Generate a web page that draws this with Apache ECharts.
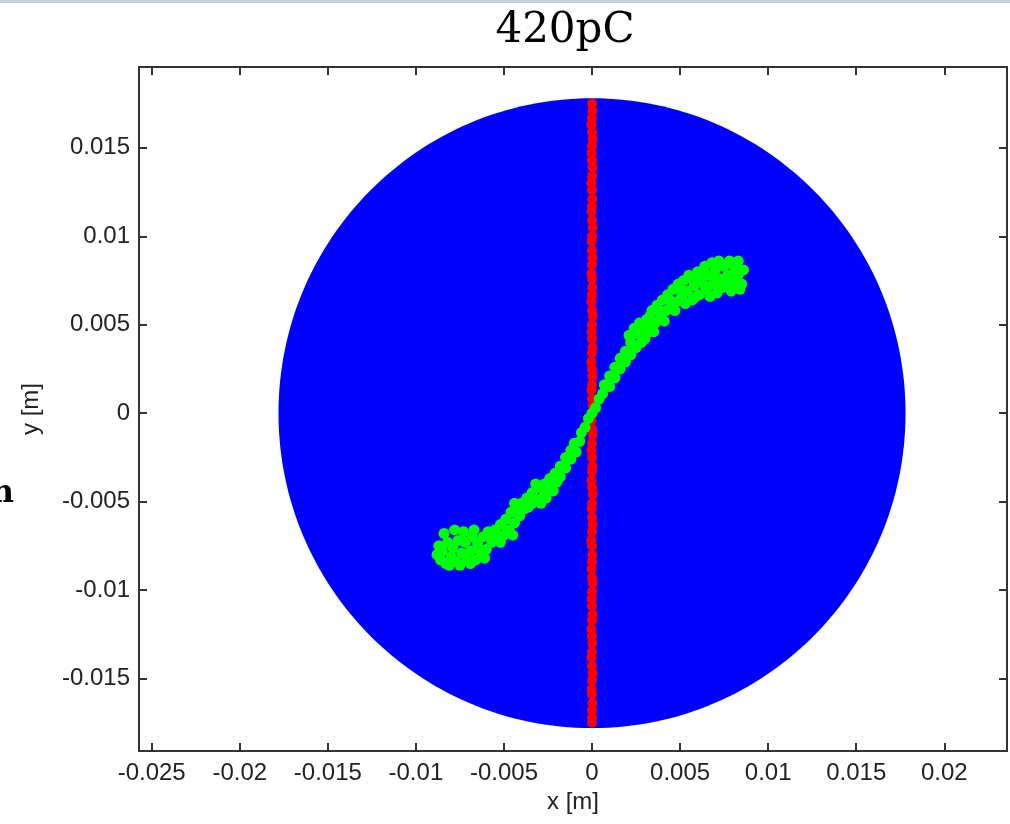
<!DOCTYPE html>
<html>
<head>
<meta charset="utf-8">
<script src="https://cdn.jsdelivr.net/npm/echarts@6/dist/echarts.min.js"></script>
<style>
  html, body { margin: 0; padding: 0; background: #ffffff; }
  #chart { width: 1010px; height: 824px; }
</style>
</head>
<body>
<div id="chart"></div>
<script>
// Beam cross-section at 420 pC: full beam disk, slice along x = 0, and the twisted slice.
const titleText = '420pC';

const xTicks = [-0.025, -0.02, -0.015, -0.01, -0.005, 0, 0.005, 0.01, 0.015, 0.02];
const yTicks = [-0.015, -0.01, -0.005, 0, 0.005, 0.01, 0.015];
const xRange = [-0.02572, 0.02356];
const yRange = [-0.0191, 0.01957];

// Full beam: centre x, centre y, radius [m]
const beamDisk = [[0, 0, 0.0178]];

// Particles sitting on the vertical line x = 0
const lineSlice = [
  [0, 0.0175], [0.00003, 0.0171], [0, 0.0167], [-0.00003, 0.0163], [0, 0.0159], [0.00004, 0.0155],
  [0, 0.0151], [-0.00002, 0.0147], [0, 0.0143], [0.00003, 0.0139], [0, 0.0134], [-0.00004, 0.0130],
  [0, 0.0126], [0.00002, 0.0121], [0, 0.0117], [-0.00003, 0.0114], [0, 0.0109], [0.00004, 0.0105],
  [0, 0.0100], [-0.00002, 0.0097], [0, 0.0092], [0.00003, 0.0088], [0, 0.0084], [-0.00004, 0.0079],
  [0, 0.0076], [0.00002, 0.0071], [0, 0.0067], [-0.00003, 0.0063], [0, 0.0058], [0.00004, 0.0055],
  [0, 0.0050], [-0.00002, 0.0046], [0, 0.0042], [0.00003, 0.0037], [0, 0.0034], [-0.00004, 0.0029],
  [0, 0.0025], [0.00002, 0.0021], [0, 0.0016], [-0.00003, 0.0013], [0, 0.0008], [0.00004, 0.0004],
  [0, 0.0000], [-0.00002, -0.0004], [0, -0.0009], [0.00003, -0.0012], [0, -0.0017], [-0.00004, -0.0021],
  [0, -0.0025], [0.00002, -0.0030], [0, -0.0033], [-0.00003, -0.0038], [0, -0.0042], [0.00004, -0.0046],
  [0, -0.0051], [-0.00002, -0.0054], [0, -0.0059], [0.00003, -0.0063], [0, -0.0067], [-0.00004, -0.0072],
  [0, -0.0075], [0.00002, -0.0080], [0, -0.0084], [-0.00003, -0.0088], [0, -0.0093], [0.00004, -0.0096],
  [0, -0.0101], [-0.00002, -0.0105], [0, -0.0109], [0.00003, -0.0114], [0, -0.0117], [-0.00004, -0.0122],
  [0, -0.0126], [0.00002, -0.0130], [0, -0.0135], [-0.00003, -0.0138], [0, -0.0143], [0.00004, -0.0147],
  [0, -0.0151], [-0.00002, -0.0156], [0, -0.0159], [0.00003, -0.0164], [0, -0.0168], [0, -0.0172], [0, -0.0175]
];

// The same slice after the twist (S-shape)
const twistedSlice = [
  [0, 0],
  [-0.0002, -0.0003], [-0.0004, -0.0008], [-0.0006, -0.0011], [-0.0007, -0.0016], [-0.0010, -0.0017],
  [-0.0009, -0.0022], [-0.0012, -0.0021], [-0.0012, -0.0026], [-0.0015, -0.0025], [-0.0015, -0.0031],
  [-0.0018, -0.0030], [-0.0018, -0.0036], [-0.0021, -0.0034], [-0.0020, -0.0039], [-0.0024, -0.0037],
  [-0.0024, -0.0042], [-0.0027, -0.0040], [-0.0027, -0.0046], [-0.0030, -0.0042], [-0.0031, -0.0049],
  [-0.0034, -0.0045], [-0.0034, -0.0051], [-0.0037, -0.0048], [-0.0038, -0.0054], [-0.0040, -0.0051],
  [-0.0041, -0.0058], [-0.0043, -0.0053], [-0.0044, -0.0062], [-0.0046, -0.0056], [-0.0047, -0.0066],
  [-0.0049, -0.0060], [-0.0050, -0.0069], [-0.0052, -0.0063], [-0.0053, -0.0071], [-0.0055, -0.0066],
  [-0.0057, -0.0073], [-0.0059, -0.0067], [-0.0060, -0.0077], [-0.0062, -0.0070], [-0.0063, -0.0081],
  [-0.0065, -0.0074], [-0.0066, -0.0083], [-0.0068, -0.0070], [-0.0069, -0.0078], [-0.0071, -0.0083],
  [-0.0072, -0.0073], [-0.0074, -0.0079], [-0.0076, -0.0072], [-0.0077, -0.0084], [-0.0079, -0.0076],
  [-0.0080, -0.0081], [-0.0082, -0.0073], [-0.0083, -0.0085], [-0.0085, -0.0078], [-0.0087, -0.0075],
  [-0.0088, -0.0080],
  [-0.0036, -0.0053], [-0.0042, -0.0057], [-0.0048, -0.0066], [-0.0054, -0.0069], [-0.0058, -0.0070],
  [-0.0064, -0.0077], [-0.0067, -0.0066], [-0.0073, -0.0067], [-0.0078, -0.0066], [-0.0084, -0.0068],
  [-0.0086, -0.0083], [-0.0081, -0.0086], [-0.0075, -0.0086], [-0.0069, -0.0085], [-0.0061, -0.0082],
  [-0.0029, -0.0051], [-0.0032, -0.0040], [-0.0026, -0.0048], [-0.0045, -0.0069], [-0.0044, -0.0051],
  [-0.0022, -0.0044], [-0.0052, -0.0073],
  [0.0002, 0.0003], [0.0004, 0.0008], [0.0006, 0.0011], [0.0007, 0.0016], [0.0010, 0.0015],
  [0.0010, 0.0021], [0.0013, 0.0020], [0.0013, 0.0026], [0.0016, 0.0025], [0.0016, 0.0031],
  [0.0019, 0.0029], [0.0019, 0.0035], [0.0022, 0.0033], [0.0022, 0.0040], [0.0025, 0.0037],
  [0.0025, 0.0045], [0.0028, 0.0040], [0.0028, 0.0049], [0.0031, 0.0045], [0.0031, 0.0053],
  [0.0033, 0.0048], [0.0034, 0.0058], [0.0036, 0.0051], [0.0037, 0.0061], [0.0039, 0.0055],
  [0.0040, 0.0064], [0.0042, 0.0058], [0.0043, 0.0067], [0.0045, 0.0061], [0.0046, 0.0070],
  [0.0048, 0.0063], [0.0049, 0.0073], [0.0051, 0.0066], [0.0052, 0.0075], [0.0054, 0.0069],
  [0.0055, 0.0078], [0.0057, 0.0064], [0.0058, 0.0072], [0.0060, 0.0080], [0.0061, 0.0067],
  [0.0062, 0.0075], [0.0064, 0.0083], [0.0065, 0.0070], [0.0066, 0.0078], [0.0068, 0.0085],
  [0.0069, 0.0073], [0.0070, 0.0081], [0.0072, 0.0086], [0.0073, 0.0076], [0.0074, 0.0071],
  [0.0075, 0.0083], [0.0077, 0.0078], [0.0078, 0.0086], [0.0080, 0.0074], [0.0081, 0.0082],
  [0.0083, 0.0086], [0.0083, 0.0078], [0.0085, 0.0073],
  [0.0035, 0.0046], [0.0041, 0.0052], [0.0047, 0.0058], [0.0053, 0.0062], [0.0059, 0.0066],
  [0.0063, 0.0078], [0.0067, 0.0066], [0.0071, 0.0068], [0.0076, 0.0073], [0.0079, 0.0069],
  [0.0084, 0.0070], [0.0086, 0.0081], [0.0070, 0.0076], [0.0064, 0.0072], [0.0057, 0.0076],
  [0.0050, 0.0070], [0.0044, 0.0064], [0.0038, 0.0058],
  [0.0027, 0.0051], [0.0030, 0.0042], [0.0024, 0.0048], [0.0021, 0.0044], [0.0033, 0.0055]
];

const frameColor = '#333333';
const labelFont = { fontFamily: 'Liberation Sans, Arial, sans-serif', fontSize: 24, color: '#222222' };

function fmt(v) { return String(+v.toFixed(4)); }

function makeX(position, showLabels) {
  return {
    type: 'value', position: position, min: xRange[0], max: xRange[1],
    splitLine: { show: false },
    axisLine: { show: true, onZero: false, lineStyle: { color: frameColor, width: 2 } },
    axisTick: { show: true, inside: true, length: 8, customValues: xTicks, lineStyle: { color: frameColor, width: 2 } },
    axisLabel: Object.assign({ show: showLabels, customValues: xTicks, margin: 10, formatter: fmt }, labelFont),
    name: showLabels ? 'x [m]' : '', nameLocation: 'middle', nameGap: 38,
    nameTextStyle: labelFont
  };
}
function makeY(position, showLabels) {
  return {
    type: 'value', position: position, min: yRange[0], max: yRange[1],
    splitLine: { show: false },
    axisLine: { show: true, onZero: false, lineStyle: { color: frameColor, width: 2 } },
    axisTick: { show: true, inside: true, length: 8, customValues: yTicks, lineStyle: { color: frameColor, width: 2 } },
    axisLabel: Object.assign({ show: showLabels, customValues: yTicks, margin: 9, formatter: fmt }, labelFont),
    name: showLabels ? 'y [m]' : '', nameLocation: 'middle', nameGap: 96,
    nameTextStyle: labelFont
  };
}

const chart = echarts.init(document.getElementById('chart'), null, { renderer: 'canvas' });
chart.setOption({
  animation: false,
  backgroundColor: '#ffffff',
  grid: { left: 139, right: 3, top: 67, bottom: 73, containLabel: false },
  xAxis: [makeX('bottom', true), makeX('top', false)],
  yAxis: [makeY('left', true), makeY('right', false)],
  graphic: [
    { type: 'rect', left: 0, top: 0, shape: { width: 1010, height: 3 }, style: { fill: '#c6d0d9' } },
    { type: 'text', x: 565, y: 31, style: { text: titleText, font: '42px "DejaVu Serif", serif', fill: '#000', textAlign: 'center', textVerticalAlign: 'middle' } },
    { type: 'text', x: 14, y: 510, style: { text: 'n', font: 'bold 32px "DejaVu Serif", serif', fill: '#000', textAlign: 'right', textVerticalAlign: 'bottom' } }
  ],
  series: [
    {
      type: 'custom',
      data: beamDisk,
      encode: { x: 0, y: 1 },
      clip: false,
      renderItem: function (params, api) {
        const c = api.coord([api.value(0), api.value(1)]);
        const r = api.value(2);
        const rx = api.size([r, 0])[0];
        const ry = api.size([0, r])[1];
        return { type: 'ellipse', shape: { cx: c[0], cy: c[1], rx: rx, ry: ry }, style: { fill: '#0000ff' } };
      },
      z: 1
    },
    {
      type: 'scatter', data: lineSlice, symbol: 'circle', symbolSize: 10,
      itemStyle: { color: '#ff0000', opacity: 1 }, z: 2
    },
    {
      type: 'scatter', data: twistedSlice, symbol: 'circle', symbolSize: 11,
      itemStyle: { color: '#00ff00', opacity: 1 }, z: 3
    }
  ]
});
</script>
</body>
</html>
